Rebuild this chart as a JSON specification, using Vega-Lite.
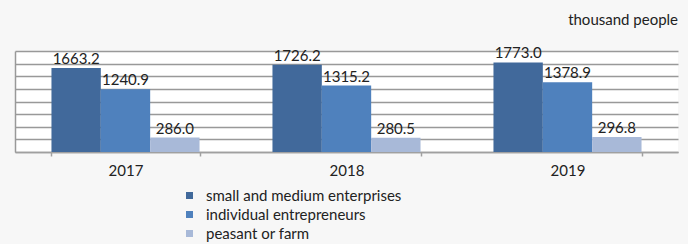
{
  "$schema": "https://vega.github.io/schema/vega-lite/v6.json",
  "autosize": {"type": "none"},
  "padding": {"left": 15, "top": 51, "right": 10, "bottom": 92},
  "width": 663,
  "height": 101,
  "background": "#f7f7f7",
  "title": {
    "text": "thousand people",
    "anchor": "end",
    "orient": "top",
    "fontSize": 15,
    "font": "Lato",
    "fontWeight": "normal",
    "color": "#222222",
    "offset": 18
  },
  "data": {
    "values": [
      {"year": "2017", "category": "small and medium enterprises", "value": 1663.2},
      {"year": "2017", "category": "individual entrepreneurs", "value": 1240.9},
      {"year": "2017", "category": "peasant or farm", "value": 286.0},
      {"year": "2018", "category": "small and medium enterprises", "value": 1726.2},
      {"year": "2018", "category": "individual entrepreneurs", "value": 1315.2},
      {"year": "2018", "category": "peasant or farm", "value": 280.5},
      {"year": "2019", "category": "small and medium enterprises", "value": 1773.0},
      {"year": "2019", "category": "individual entrepreneurs", "value": 1378.9},
      {"year": "2019", "category": "peasant or farm", "value": 296.8}
    ]
  },
  "config": {
    "view": {"stroke": null, "fill": "white"},
    "font": "Lato"
  },
  "encoding": {
    "x": {
      "field": "year",
      "type": "nominal",
      "scale": {"paddingInner": 0.33, "paddingOuter": 0.165},
      "axis": {
        "title": null,
        "labelAngle": 0,
        "labelFontSize": 15,
        "labelColor": "#222222",
        "labelFont": "Lato",
        "domainColor": "#a0a0a0",
        "domainWidth": 1.5,
        "tickColor": "#a0a0a0",
        "tickWidth": 1.5,
        "tickSize": 4,
        "tickBand": "extent",
        "labelPadding": 7
      }
    },
    "xOffset": {
      "field": "category",
      "type": "nominal",
      "sort": ["small and medium enterprises", "individual entrepreneurs", "peasant or farm"],
      "scale": {"paddingInner": 0, "paddingOuter": 0}
    },
    "y": {
      "field": "value",
      "type": "quantitative",
      "scale": {"domain": [0, 2000], "nice": false},
      "axis": {
        "title": null,
        "labels": false,
        "ticks": false,
        "values": [0, 250, 500, 750, 1000, 1250, 1500, 1750, 2000],
        "grid": true,
        "gridColor": "#999999",
        "gridWidth": 1.5,
        "domainColor": "#999999",
        "domainWidth": 1.5
      }
    }
  },
  "layer": [
    {
      "mark": {"type": "bar"},
      "encoding": {
        "color": {
          "field": "category",
          "type": "nominal",
          "scale": {
            "domain": ["small and medium enterprises", "individual entrepreneurs", "peasant or farm"],
            "range": ["#41699b", "#4f81bd", "#a8b9d8"]
          },
          "legend": {
            "title": null,
            "orient": "none",
            "legendX": 167,
            "legendY": 137,
            "symbolType": "square",
            "symbolSize": 49,
            "symbolStrokeWidth": 0,
            "labelFontSize": 15,
            "labelFont": "Lato",
            "labelColor": "#222222",
            "labelOffset": 9,
            "labelLimit": 0,
            "rowPadding": 3
          }
        }
      }
    },
    {
      "mark": {"type": "text", "baseline": "alphabetic", "dy": -4, "fontSize": 15, "font": "Lato", "color": "#222222"},
      "encoding": {
        "text": {"field": "value", "type": "quantitative", "format": ".1f"}
      }
    }
  ]
}
